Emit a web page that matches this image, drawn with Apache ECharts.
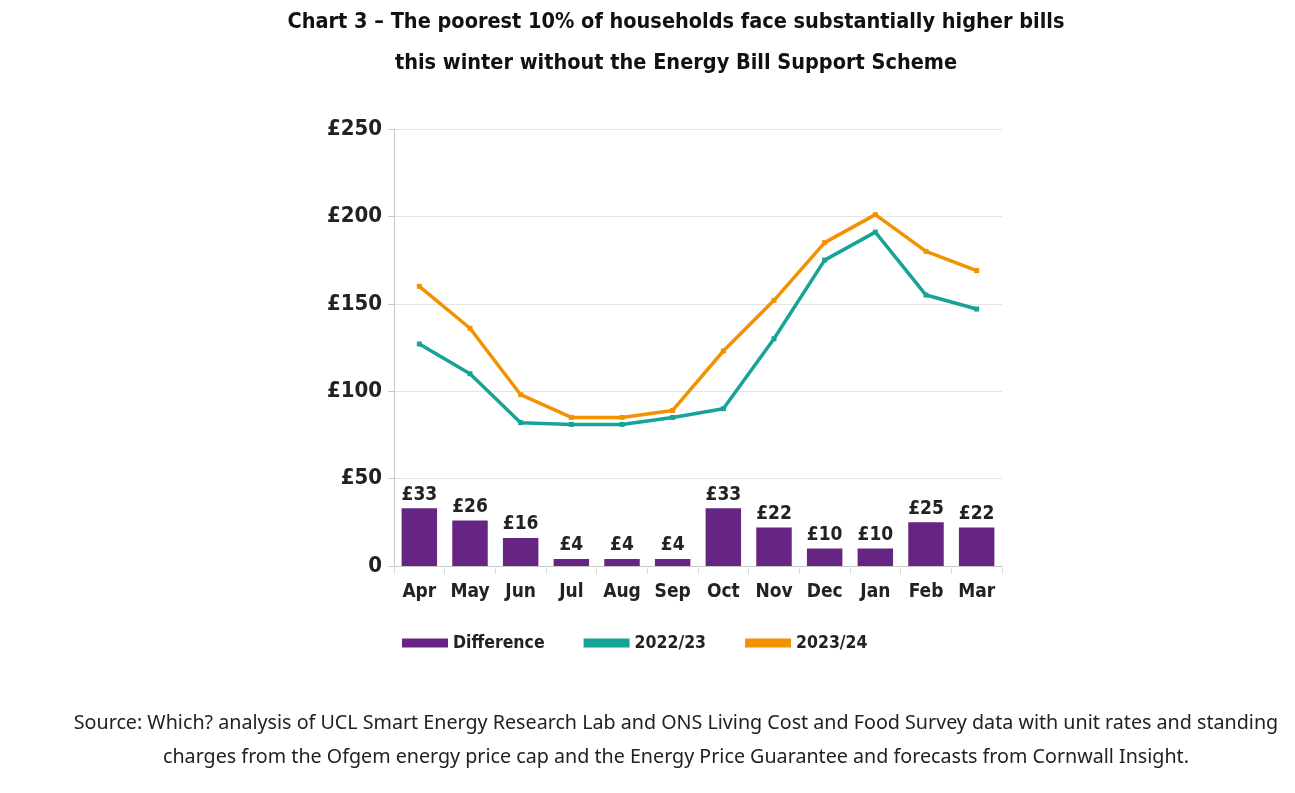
<!DOCTYPE html>
<html>
<head>
<meta charset="utf-8">
<script src="https://cdn.jsdelivr.net/npm/echarts@6/dist/echarts.min.js"></script>
<style>
  html, body { margin: 0; padding: 0; background: #fff; }
  #chart { width: 1295px; height: 793px; }
</style>
</head>
<body>
<div id="chart"></div>
<script>
// months on the x axis
const months = ["Apr", "May", "Jun", "Jul", "Aug", "Sep", "Oct", "Nov", "Dec", "Jan", "Feb", "Mar"];
// monthly bills, £
const bills2223 = [127, 110, 82, 81, 81, 85, 90, 130, 175, 191, 155, 147];
const bills2324 = [160, 136, 98, 85, 85, 89, 123, 152, 185, 201, 180, 169];
// difference between the two years
const difference = [33, 26, 16, 4, 4, 4, 33, 22, 10, 10, 25, 22];

const font = "'Liberation Sans Narrow', 'DejaVu Sans Condensed', sans-serif";

const chart = echarts.init(document.getElementById("chart"));
const option = {
  animation: false,
  textStyle: { fontFamily: font },
  // title and source are centred a little right of the page middle
  graphic: [
    {
      type: "text",
      x: 676,
      y: 2,
      style: {
        text: "Chart 3 \u2013 The poorest 10% of households face substantially higher bills\nthis winter without the Energy Bill Support Scheme",
        align: "center",
        verticalAlign: "top",
        font: "bold 21.5px " + font,
        fill: "#111",
        lineHeight: 41
      }
    },
    {
      type: "text",
      x: 676,
      y: 706,
      style: {
        text: "Source: Which? analysis of UCL Smart Energy Research Lab and ONS Living Cost and Food Survey data with unit rates and standing\ncharges from the Ofgem energy price cap and the Energy Price Guarantee and forecasts from Cornwall Insight.",
        align: "center",
        verticalAlign: "top",
        font: "19.7px 'Noto Sans', sans-serif",
        fill: "#222",
        lineHeight: 34
      }
    }
  ],
  legend: {
    top: 629,
    left: 397,
    itemWidth: 46,
    itemHeight: 9,
    itemGap: 39,
    textStyle: { fontFamily: font, fontSize: 17.5, fontWeight: "bold", color: "#222" },
    data: [
      { name: "Difference", icon: "rect" },
      { name: "2022/23", icon: "rect", itemStyle: { color: "#17a398" } },
      { name: "2023/24", icon: "rect", itemStyle: { color: "#f39200" } }
    ]
  },
  grid: { left: 394, right: 293, top: 129, bottom: 227 },
  xAxis: {
    type: "category",
    data: months,
    axisLine: { lineStyle: { color: "#c8c8c8" } },
    axisTick: { show: true, length: 8, lineStyle: { color: "#dcdcdc" } },
    axisLabel: { interval: 0, color: "#222", fontSize: 19, fontWeight: "bold", margin: 17, fontFamily: font }
  },
  yAxis: {
    type: "value",
    min: 0,
    max: 250,
    interval: 50,
    axisLine: { show: true, lineStyle: { color: "#c8c8c8" } },
    axisTick: { show: true, length: 6, lineStyle: { color: "#c8c8c8" } },
    splitLine: { lineStyle: { color: "#e4e4e4" } },
    axisLabel: {
      color: "#222", fontSize: 22, fontWeight: "bold", margin: 12, fontFamily: font,
      formatter: v => (v === 0 ? "0" : "\u00a3" + v)
    }
  },
  series: [
    {
      name: "Difference",
      type: "bar",
      data: difference,
      barWidth: "70%",
      itemStyle: { color: "#662483" },
      label: {
        show: true,
        position: "top",
        distance: 4,
        formatter: p => "\u00a3" + p.value,
        color: "#222",
        fontSize: 19,
        fontWeight: "bold",
        fontFamily: font
      }
    },
    {
      name: "2022/23",
      type: "line",
      data: bills2223,
      symbol: "rect",
      symbolSize: 5,
      lineStyle: { width: 3.5, color: "#17a398" },
      itemStyle: { color: "#17a398" }
    },
    {
      name: "2023/24",
      type: "line",
      data: bills2324,
      symbol: "rect",
      symbolSize: 5,
      lineStyle: { width: 3.5, color: "#f39200" },
      itemStyle: { color: "#f39200" }
    }
  ]
};
option && chart.setOption(option);
</script>
</body>
</html>
